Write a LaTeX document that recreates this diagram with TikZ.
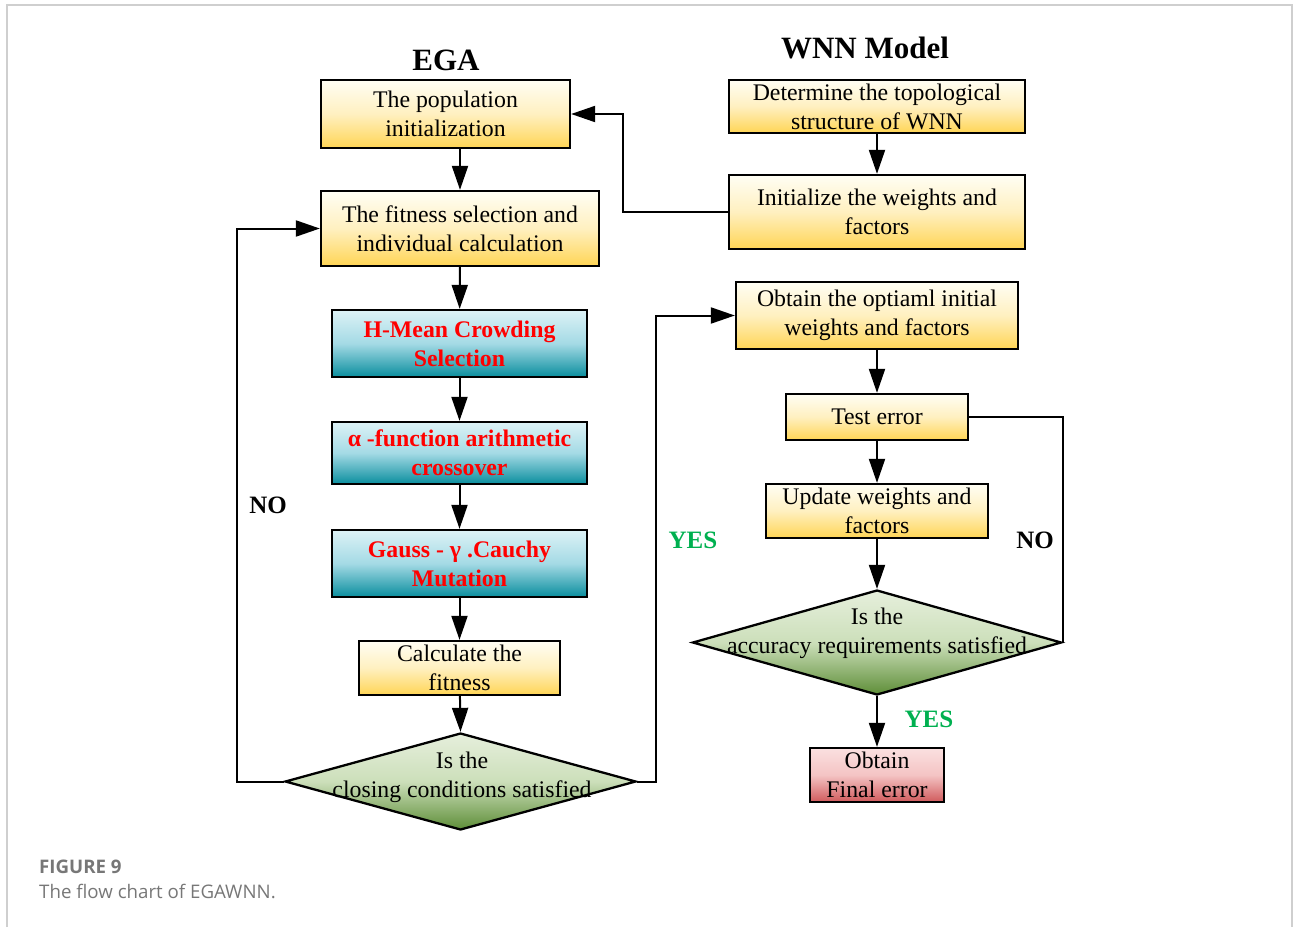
\documentclass[tikz,border=0pt]{standalone}
\usepackage{fontspec}
\setmainfont{Liberation Serif}
\newfontfamily\capfont{Open Sans}
\usetikzlibrary{shapes.geometric,arrows.meta}
\definecolor{yTop}{HTML}{FFFEF4}
\definecolor{yMid}{HTML}{FFF0C0}
\definecolor{yBot}{HTML}{FFD555}
\definecolor{bTop}{HTML}{DDF2F6}
\definecolor{bMid}{HTML}{A4DAE5}
\definecolor{bBot}{HTML}{0A8E9E}
\definecolor{gTop}{HTML}{E6EFDC}
\definecolor{gMid}{HTML}{CCDFBA}
\definecolor{gBot}{HTML}{5E8E38}
\definecolor{pTop}{HTML}{FBE0E0}
\definecolor{pMid}{HTML}{F4C4C4}
\definecolor{pBot}{HTML}{D05A5C}
\definecolor{redtxt}{HTML}{FF0000}
\definecolor{yesgreen}{HTML}{00B050}
\definecolor{capgray}{HTML}{777777}
\definecolor{framegray}{HTML}{CFCFCF}
\tikzset{
  base/.style={draw=black, line width=2.3pt, align=center, inner sep=0pt,
    font=\fontsize{23.8}{29}\selectfont},
  ybox/.style={base, top color=yTop, bottom color=yBot, middle color=yMid},
  bbox/.style={base, top color=bTop, bottom color=bBot, middle color=bMid,
    font=\fontsize{23.8}{29}\selectfont\bfseries\color{redtxt}},
  pbox/.style={base, top color=pTop, bottom color=pBot, middle color=pMid},
  dia/.style={diamond, draw=black, line width=2.3pt, inner sep=0pt,
    top color=gTop, bottom color=gBot, middle color=gMid},
  diatext/.style={align=center, inner sep=0pt, font=\fontsize{23.8}{29}\selectfont},
  title/.style={font=\fontsize{31}{36}\selectfont\bfseries},
  lbl/.style={font=\fontsize{25}{30}\selectfont\bfseries},
  arr/.style={line width=2pt, -{Triangle[length=24pt,width=16pt]}},
  ln/.style={line width=2pt},
}
\begin{document}
\begin{tikzpicture}[x=1pt,y=-1pt]
\useasboundingbox (0,0) rectangle (1293,927);
% frame
\draw[framegray, line width=1.5pt] (7,927) -- (7,5) -- (1292,5) -- (1292,927);

% titles
\node[title] (tEGA) at (446,60) {EGA};
\node[title] (tWNN) at (865,48) {WNN Model};

% left column
\node[ybox, minimum width=249, minimum height=68] (pop) at (445.5,114) {The population\\initialization};
\node[ybox, minimum width=278, minimum height=75] (fit) at (460,228.5) {The fitness selection and\\individual calculation};
\node[bbox, minimum width=255, minimum height=67] (hm) at (459.5,343.5) {H-Mean Crowding\\Selection};
\node[bbox, minimum width=255, minimum height=62] (al) at (459.5,453) {α -function arithmetic\\crossover};
\node[bbox, minimum width=255, minimum height=67] (ga) at (459.5,563.5) {Gauss - γ .Cauchy\\Mutation};
\node[ybox, minimum width=201, minimum height=54] (cal) at (459.5,668) {Calculate the\\fitness};
\node[dia, minimum width=351, minimum height=97] (d1) at (460.5,781.5) {};
\node[diatext] (d1t) at (462,777) {Is the\\closing conditions satisfied};

% right column
\node[ybox, minimum width=296, minimum height=53] (top) at (877,106.5) {Determine the topological\\structure of WNN};
\node[ybox, minimum width=296, minimum height=74] (ini) at (877,212) {Initialize the weights and\\factors};
\node[ybox, minimum width=282, minimum height=67] (opt) at (877,315.5) {Obtain the optiaml initial\\weights and factors};
\node[ybox, minimum width=182, minimum height=46] (te) at (877,417) {Test error};
\node[ybox, minimum width=222, minimum height=54] (up) at (877,511) {Update weights and\\factors};
\node[dia, minimum width=369, minimum height=105] (d2) at (877,642.5) {};
\node[diatext] (d2t) at (877,633) {Is the\\accuracy requirements satisfied};
\node[pbox, minimum width=134, minimum height=54] (fin) at (877,775) {Obtain\\Final error};

% connectors left
\draw[arr] (fit.north |- pop.south) -- (fit.north);
\draw[arr] (fit) -- (hm);
\draw[arr] (hm) -- (al);
\draw[arr] (al) -- (ga);
\draw[arr] (ga) -- (cal);
\draw[arr] (cal) -- (d1.north);
\draw[arr] (d1.west) -- ++(-47,0) |- (fit.west);
\draw[arr] (d1.east) -- ++(19,0) |- (opt.west);
\draw[arr] (ini.west) -- ++(-105,0) |- (pop.east);

% connectors right
\draw[arr] (top) -- (ini);
\draw[arr] (opt) -- (te);
\draw[arr] (te) -- (up);
\draw[arr] (up) -- (d2.north);
\draw[ln] (te.east) -| (d2.east);
\draw[arr] (d2.south) -- (fin);

% labels
\node[lbl] (no1) at (268,505) {NO};
\node[lbl, text=yesgreen] (yes1) at (693,540) {YES};
\node[lbl] (no2) at (1035,540) {NO};
\node[lbl, text=yesgreen] (yes2) at (929,719) {YES};

% caption
\node[anchor=west, inner sep=0pt, text=capgray, font=\capfont\fontsize{18.7}{22}\selectfont\bfseries] (cap1) at (39,867) {FIGURE 9};
\node[anchor=west, inner sep=0pt, text=capgray, font=\capfont\fontsize{18.7}{22}\selectfont] (cap2) at (39,891) {The flow chart of EGAWNN.};
\end{tikzpicture}
\end{document}
